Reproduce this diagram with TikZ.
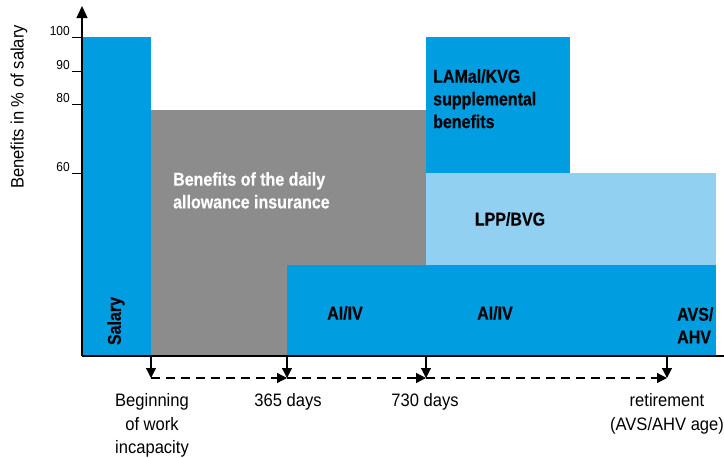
\documentclass[tikz,border=0pt]{standalone}
\usepackage{fontspec}
\setmainfont{Liberation Sans}[FakeStretch=0.92,BoldFeatures={FakeStretch=0.86,FakeBold=0.3}]
\usetikzlibrary{arrows.meta}
\definecolor{barblue}{RGB}{0,158,224}
\definecolor{barlight}{RGB}{146,208,242}
\definecolor{bargray}{RGB}{140,140,140}
\begin{document}
\begin{tikzpicture}[x=1pt,y=-1pt,
  axisline/.style={line width=1.4pt,black},
  bigtip/.style={-{Triangle[length=12pt,width=11pt]}},
  smalltip/.style={line width=1.2pt,-{Triangle[length=10pt,width=10pt]}},
  dashline/.style={line width=1.3pt,dash pattern=on 9pt off 6pt,-{Triangle[length=10pt,width=10pt]}},
  lab/.style={font=\fontsize{18}{23.5}\selectfont,inner sep=0pt},
  blab/.style={font=\bfseries\fontsize{18.6}{22.7}\selectfont,inner sep=0pt},
  tlab/.style={font=\fontsize{13}{15}\selectfont,inner sep=0pt},
  tickline/.style={line width=1pt,black}]
\useasboundingbox (0,0) rectangle (724,458);
% bars
\fill[bargray] (151,110) rectangle (426,356);
\fill[barblue] (287,265) rectangle (716,356);
\fill[barlight] (426,173) rectangle (716,265);
\fill[barblue] (426,37) rectangle (570,173);
\fill[barblue] (82,37) rectangle (151,356);
% axes
\coordinate (origin) at (82,356);
\coordinate (ytop) at (82,6);
\coordinate (xend) at (736,356);
\draw[axisline,bigtip] (origin) -- (ytop);
\draw[axisline,bigtip] (origin) -- (xend);
% ticks
\foreach \v/\yy in {100/37,90/71,80/104,60/173}{
  \draw[tickline] (72,\yy) -- (82,\yy);
  \node[tlab,anchor=base east] (tick\v) at (70,\yy-1.5) {\v};
}
\node[lab,rotate=90] (ylabel) at (19,107) {Benefits in \% of salary};
% milestones
\coordinate (m0) at (151,356);
\coordinate (m1) at (287,356);
\coordinate (m2) at (426,356);
\coordinate (m3) at (667,356);
\coordinate (b0) at (151,378);
\coordinate (b1) at (287,378);
\coordinate (b2) at (426,378);
\coordinate (b3) at (667,378);
\foreach \i in {0,1,2,3}{\draw[smalltip] (m\i) -- (b\i);}
\draw[dashline] (b0) -- (b1);
\draw[dashline] (b1) -- (b2);
\draw[dashline] (b2) -- (b3);
% bottom labels
\node[lab,align=center,anchor=north] (begin) at (152,393.5) {Beginning\\of work\\incapacity};
\node[lab,anchor=north] (d365) at (288,393.5) {365 days};
\node[lab,anchor=north] (d730) at (425,393.5) {730 days};
\node[lab,align=center,anchor=north] (retire) at (667,393.5) {retirement\\(AVS/AHV age)};
% bar labels
\node[blab,rotate=90] (salary) at (116,321) {Salary};
\node[blab,text=white,align=left,anchor=north west] (daily) at (173,172) {Benefits of the daily\\allowance insurance};
\node[blab,align=left,anchor=north west] (lamal) at (433,69) {LAMal/KVG\\supplemental\\benefits};
\node[blab] (lpp) at (510,219) {LPP/BVG};
\node[blab] (ai1) at (345,313) {AI/IV};
\node[blab] (ai2) at (495,313) {AI/IV};
\node[blab,align=left,anchor=north west] (avs) at (677,307) {AVS/\\AHV};
\end{tikzpicture}
\end{document}
